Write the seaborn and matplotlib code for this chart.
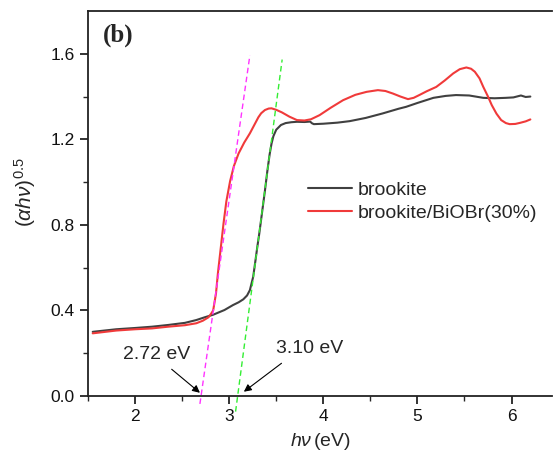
import numpy as np
import pandas as pd
import matplotlib
matplotlib.use("Agg")
import matplotlib.pyplot as plt
import seaborn as sns

# ---- data ----
brookite_x = [1.55, 1.80, 2.00, 2.18, 2.35, 2.53, 2.65, 2.74, 2.83, 2.95, 3.04, 3.10, 3.15, 3.19, 3.22, 3.255,
              3.28, 3.30, 3.32, 3.35, 3.38, 3.405, 3.43, 3.45, 3.47, 3.50, 3.55, 3.60, 3.66, 3.72, 3.80,
              3.86, 3.88, 3.90, 4.00, 4.15, 4.28, 4.45, 4.63, 4.80, 4.88, 5.00, 5.17, 5.30, 5.41, 5.55,
              5.70, 5.82, 5.94, 6.02, 6.10, 6.15, 6.20]
brookite_y = [0.300, 0.312, 0.318, 0.324, 0.332, 0.342, 0.355, 0.368, 0.380, 0.402, 0.425, 0.438, 0.452, 0.470,
              0.495, 0.557, 0.636, 0.700, 0.760, 0.860, 0.960, 1.050, 1.130, 1.180, 1.215, 1.245, 1.267,
              1.276, 1.280, 1.282, 1.281, 1.283, 1.275, 1.271, 1.273, 1.278, 1.285, 1.300, 1.321, 1.343,
              1.352, 1.370, 1.394, 1.403, 1.407, 1.405, 1.394, 1.392, 1.394, 1.396, 1.405, 1.398, 1.400]

bio_x = [1.55, 1.80, 2.00, 2.18, 2.35, 2.53, 2.65, 2.72, 2.78, 2.81, 2.83, 2.86, 2.88, 2.91, 2.94, 2.97,
         3.01, 3.05, 3.10, 3.16, 3.22, 3.28, 3.31, 3.34, 3.38, 3.42, 3.45, 3.50, 3.56, 3.64, 3.72,
         3.80, 3.87, 3.96, 4.08, 4.21, 4.34, 4.46, 4.58, 4.66, 4.74, 4.82, 4.90, 4.96, 5.02, 5.10,
         5.20, 5.29, 5.38, 5.45, 5.52, 5.57, 5.61, 5.66, 5.70, 5.75, 5.79, 5.84, 5.89, 5.94, 5.98,
         6.04, 6.09, 6.15, 6.20]
bio_y = [0.293, 0.306, 0.312, 0.316, 0.324, 0.331, 0.340, 0.352, 0.368, 0.386, 0.400, 0.480, 0.573, 0.690,
         0.807, 0.910, 1.005, 1.075, 1.134, 1.185, 1.228, 1.278, 1.303, 1.322, 1.337, 1.344, 1.345,
         1.338, 1.326, 1.306, 1.290, 1.288, 1.294, 1.313, 1.348, 1.383, 1.408, 1.422, 1.430, 1.426,
         1.414, 1.400, 1.388, 1.394, 1.407, 1.425, 1.445, 1.475, 1.508, 1.528, 1.536, 1.530, 1.516,
         1.485, 1.445, 1.400, 1.360, 1.320, 1.290, 1.276, 1.271, 1.272, 1.277, 1.284, 1.293]

series_names = ["brookite", "brookite/BiOBr(30%)"]
tangent1_x = [2.689, 3.22]
tangent1_y = [-0.037, 1.593]
tangent2_x = [3.068, 3.563]
tangent2_y = [-0.073, 1.573]
gap_labels = ["2.72 eV", "3.10 eV"]
x_ticks = [2, 3, 4, 5, 6]
y_ticks = [0.0, 0.4, 0.8, 1.2, 1.6]

df = pd.concat([
    pd.DataFrame({"x": brookite_x, "y": brookite_y, "s": series_names[0]}),
    pd.DataFrame({"x": bio_x, "y": bio_y, "s": series_names[1]}),
])

sns.set_style("ticks")
plt.rcParams["font.family"] = ["Liberation Sans", "DejaVu Sans"]
plt.rcParams["mathtext.fontset"] = "custom"
plt.rcParams["mathtext.rm"] = "Liberation Sans"
plt.rcParams["mathtext.it"] = "Liberation Sans:italic"

fig = plt.figure(figsize=(5.53, 4.57), dpi=100)
ax = fig.add_axes([88 / 553, 61 / 457, 464 / 553, 385 / 457])

sns.lineplot(data=df, x="x", y="y", hue="s", palette=["#404040", "#f03a3a"],
             linewidth=1.5, ax=ax, sort=False, estimator=None, legend=True)

ax.plot(tangent1_x, tangent1_y, ls=(0, (4, 2.5)), color="#ff33ff", lw=1.0, clip_on=False, zorder=5)
ax.plot(tangent2_x, tangent2_y, ls=(0, (4, 2.5)), color="#33ee33", lw=1.0, clip_on=False, zorder=5)

ax.set_xlim(1.5, 6.43)
ax.set_ylim(0, 1.8)
ax.set_xticks(x_ticks)
ax.set_xticklabels([str(t) for t in x_ticks])
ax.set_yticks(y_ticks)
ax.set_yticklabels([f"{t:.1f}" for t in y_ticks])
ax.set_xticks(np.arange(1.5, 6.5, 0.5), minor=True)
ax.set_yticks(np.arange(0, 1.8, 0.2), minor=True)
ax.tick_params(axis="both", which="major", direction="out", length=6, width=1.2, labelsize=12.5, colors="#111111")
ax.tick_params(axis="both", which="minor", direction="out", length=3.5, width=1.0)

for sp in ["left", "bottom", "top"]:
    ax.spines[sp].set_linewidth(1.3)
    ax.spines[sp].set_color("#222222")
ax.spines["right"].set_visible(False)

ax.set_xlabel(r"$h\nu\,$(eV)", fontsize=14)
ax.xaxis.set_label_coords(0.5, -0.092)
ax.set_ylabel(r"$(\alpha h\nu)^{0.5}$", fontsize=15)
ax.yaxis.set_label_coords(-0.108, 0.53)

ax.text(0.033, 0.968, "(b)", transform=ax.transAxes, fontsize=18, fontweight="bold",
        family="Liberation Serif", va="top", ha="left")

leg = ax.legend(frameon=False, loc="upper left", bbox_to_anchor=(0.474, 0.558), fontsize=14,
                handlelength=2.27, handletextpad=0.3, labelspacing=0.3, borderaxespad=0, borderpad=0)
for line in leg.get_lines():
    line.set_linewidth(1.5)

arrow_kw = dict(arrowstyle="-|>", color="black", lw=0.8, mutation_scale=11, shrinkA=0, shrinkB=0)
ax.text(2.225, 0.192, gap_labels[0], fontsize=14, ha="center", va="center")
ax.annotate("", xy=(2.689, 0.015), xytext=(2.389, 0.125), arrowprops=arrow_kw)
ax.text(3.857, 0.223, gap_labels[1], fontsize=14, ha="center", va="center")
ax.annotate("", xy=(3.156, 0.020), xytext=(3.556, 0.153), arrowprops=arrow_kw)

fig.savefig("out.png", dpi=100)
